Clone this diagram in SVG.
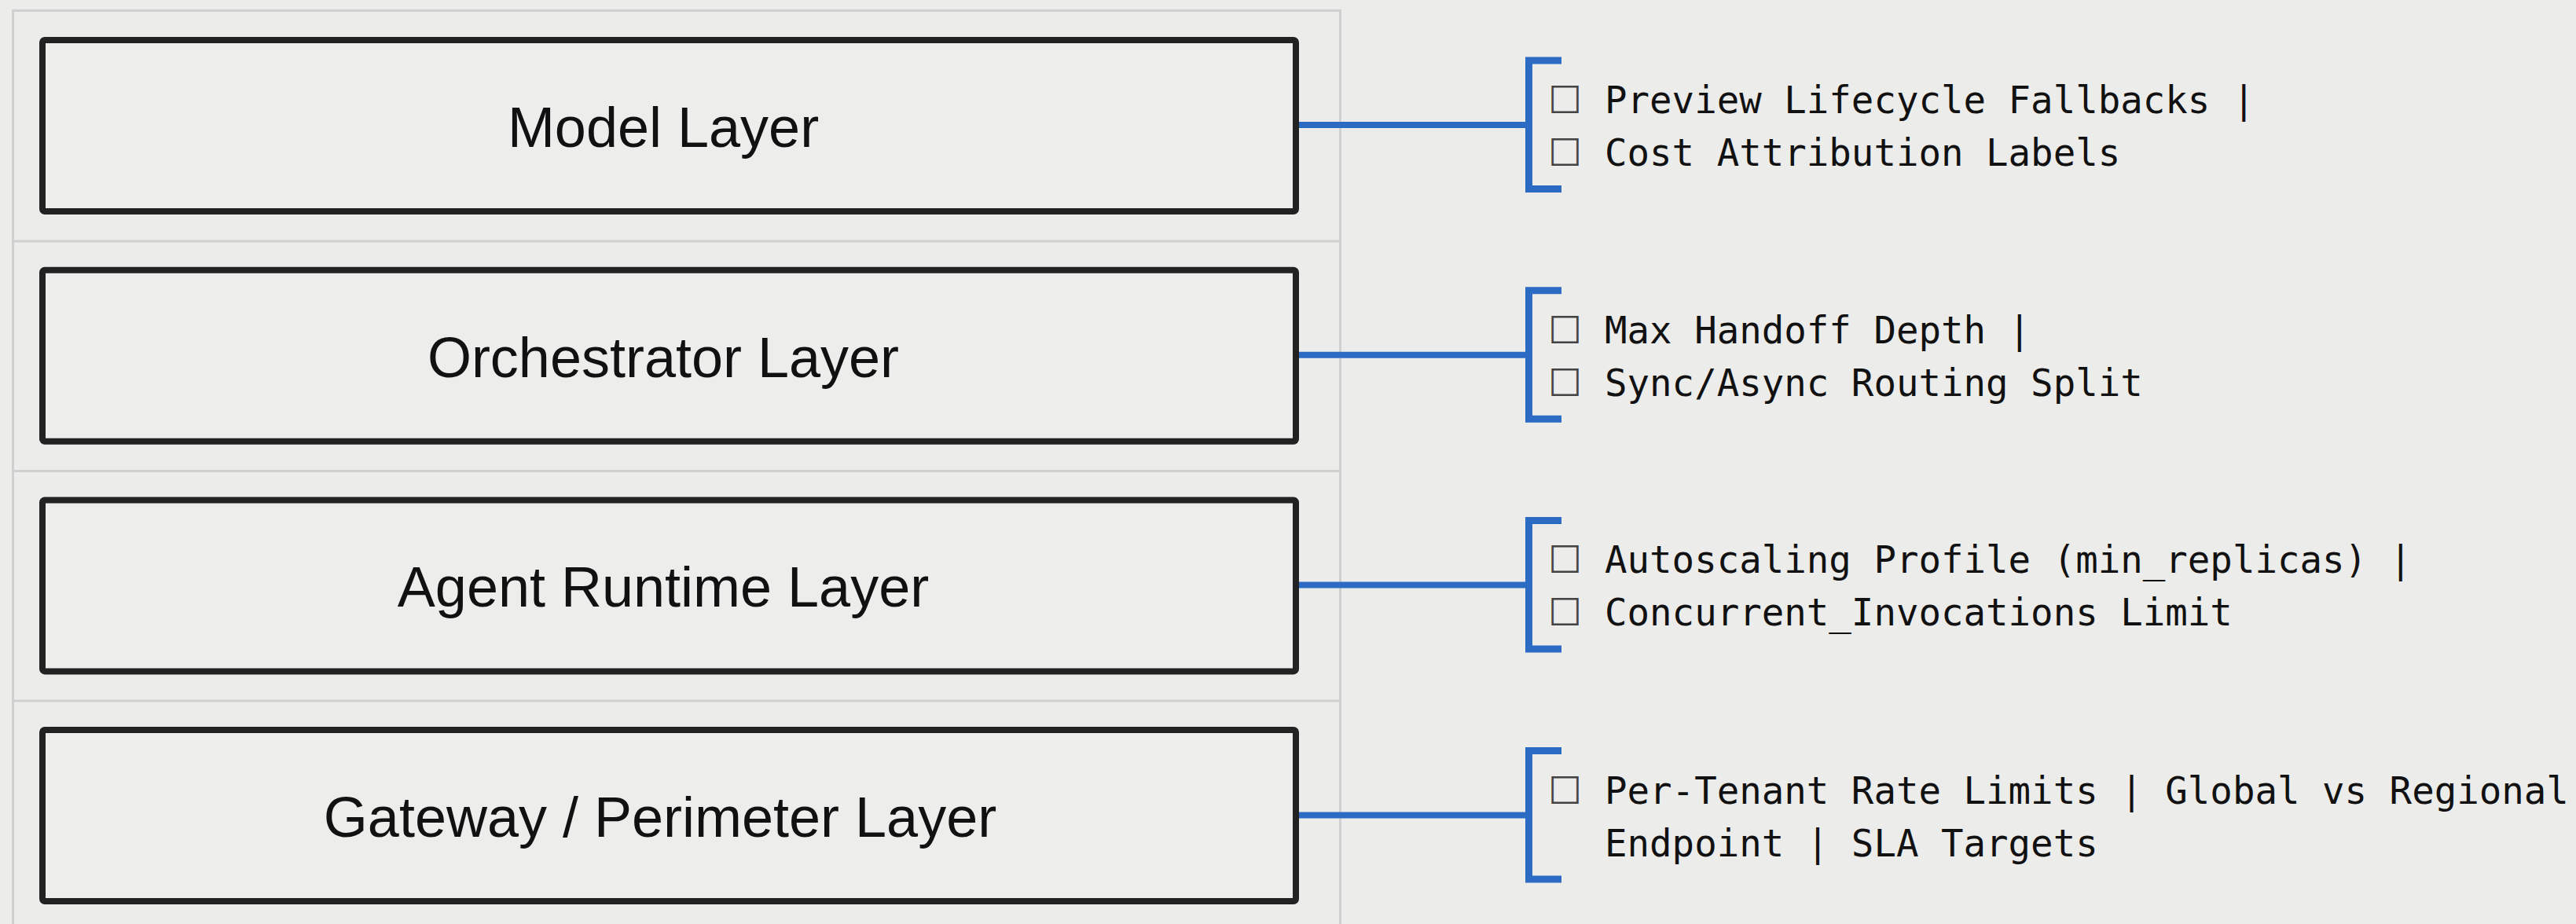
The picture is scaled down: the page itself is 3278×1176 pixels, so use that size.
<svg xmlns="http://www.w3.org/2000/svg" width="3278" height="1176" viewBox="0 0 3278 1176">
  <style>
    .bg { fill: #ececeb; }
    .panel { fill: none; stroke: #d0d0d0; stroke-width: 3; }
    .sep { stroke: #d0d0d0; stroke-width: 3; }
    .layer { fill: #ededec; stroke: #222222; stroke-width: 8; }
    .layer-label { font-family: "Liberation Sans", Arial, sans-serif; font-size: 72px; fill: #111111; text-anchor: middle; }
    .link { fill: none; stroke: #2b6bc4; stroke-width: 8; }
    .bracket { fill: none; stroke: #2b6bc4; stroke-width: 9; stroke-linejoin: miter; }
    .note { font-family: "DejaVu Sans Mono", "Liberation Mono", monospace; font-size: 47.4px; fill: #111111; }
    .box { font-family: "DejaVu Sans", "DejaVu Sans Mono", sans-serif; font-size: 48px; fill: #444444; }
  </style>

  <rect class="bg" x="0" y="0" width="3278" height="1176"/>

  <!-- stack frame with row separators -->
  <g id="stack-frame">
    <rect class="panel" x="16.5" y="13.5" width="1689" height="1200"/>
    <line class="sep" x1="16" y1="307" x2="1705" y2="307"/>
    <line class="sep" x1="16" y1="599.5" x2="1705" y2="599.5"/>
    <line class="sep" x1="16" y1="892" x2="1705" y2="892"/>
  </g>

  <!-- layers -->
  <g id="model-layer">
    <rect class="layer" x="54" y="51" width="1595" height="218" rx="3"/>
    <text class="layer-label" x="844" y="187">Model Layer</text>
  </g>
  <g id="orchestrator-layer">
    <rect class="layer" x="54" y="343.7" width="1595" height="218" rx="3"/>
    <text class="layer-label" x="844" y="479.7">Orchestrator Layer</text>
  </g>
  <g id="agent-runtime-layer">
    <rect class="layer" x="54" y="636.4" width="1595" height="218" rx="3"/>
    <text class="layer-label" x="844" y="772.4">Agent Runtime Layer</text>
  </g>
  <g id="gateway-layer">
    <rect class="layer" x="54" y="929" width="1595" height="218" rx="3"/>
    <text class="layer-label" x="840" y="1065">Gateway / Perimeter Layer</text>
  </g>

  <!-- connectors: layer edge to bracket -->
  <g id="connectors">
    <line class="link" x1="1653" y1="159" x2="1946" y2="159"/>
    <line class="link" x1="1653" y1="451.7" x2="1946" y2="451.7"/>
    <line class="link" x1="1653" y1="744.4" x2="1946" y2="744.4"/>
    <line class="link" x1="1653" y1="1037.5" x2="1946" y2="1037.5"/>
  </g>

  <!-- checklists -->
  <g id="model-notes">
    <path class="bracket" d="M1987,77 H1945.5 V240.5 H1987"/>
    <text class="note" y="144"><tspan class="box" x="1970">☐</tspan><tspan x="2042">Preview Lifecycle Fallbacks |</tspan></text>
    <text class="note" y="211"><tspan class="box" x="1970">☐</tspan><tspan x="2042">Cost Attribution Labels</tspan></text>
  </g>
  <g id="orchestrator-notes">
    <path class="bracket" d="M1987,369.7 H1945.5 V533.2 H1987"/>
    <text class="note" y="436.7"><tspan class="box" x="1970">☐</tspan><tspan x="2042">Max Handoff Depth |</tspan></text>
    <text class="note" y="503.7"><tspan class="box" x="1970">☐</tspan><tspan x="2042">Sync/Async Routing Split</tspan></text>
  </g>
  <g id="agent-runtime-notes">
    <path class="bracket" d="M1987,662.4 H1945.5 V825.9 H1987"/>
    <text class="note" y="729.4"><tspan class="box" x="1970">☐</tspan><tspan x="2042">Autoscaling Profile (min_replicas) |</tspan></text>
    <text class="note" y="796.4"><tspan class="box" x="1970">☐</tspan><tspan x="2042">Concurrent_Invocations Limit</tspan></text>
  </g>
  <g id="gateway-notes">
    <path class="bracket" d="M1987,955.5 H1945.5 V1119 H1987"/>
    <text class="note" y="1022.5"><tspan class="box" x="1970">☐</tspan><tspan x="2042">Per-Tenant Rate Limits | Global vs Regional</tspan></text>
    <text class="note" x="2042" y="1089.5">Endpoint | SLA Targets</text>
  </g>
</svg>
